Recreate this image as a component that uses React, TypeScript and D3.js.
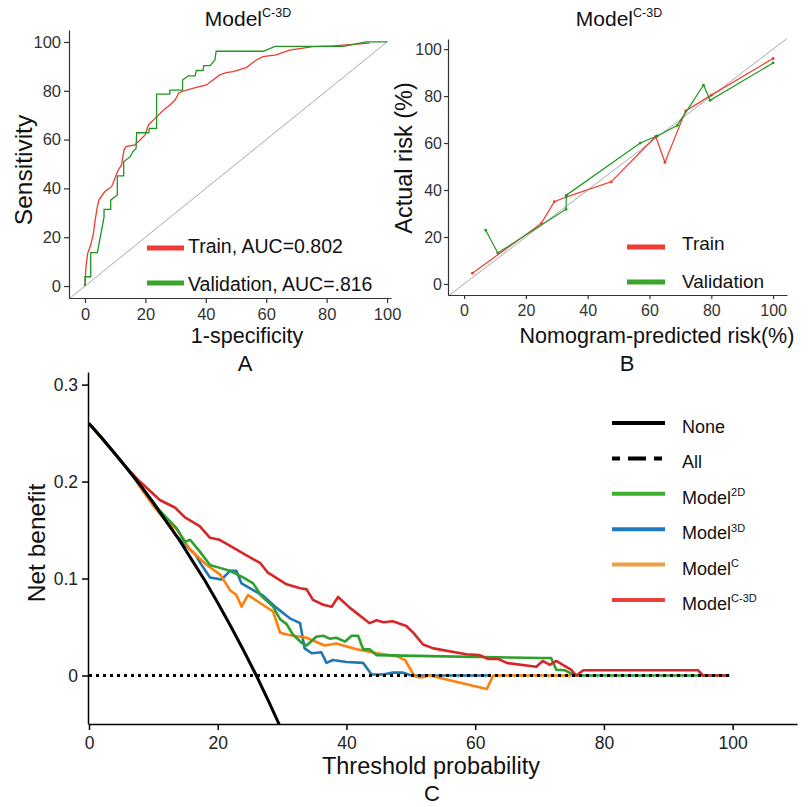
import React, { useEffect, useRef } from 'react'
import { axisBottom, axisLeft, line, scaleLinear, select } from 'd3'

// ---- datos ----
const pctTicks = [0, 20, 40, 60, 80, 100]
const dcaTicksY = [0, 0.1, 0.2, 0.3]

// ROC (1-specificity, sensitivity)
const rocTrain: [number, number][] = [
  [0, 0], [0.3, 7.9], [0.9, 13.4], [1.9, 16.9], [2.8, 21.6], [3.2, 25.7], [4, 31.9], [4.6, 35.2],
  [6.1, 38], [7.2, 39.3], [8.8, 40.7], [9.9, 44.1], [11, 47.5], [12.1, 49.6], [12.9, 55.7],
  [13.6, 57.1], [16.5, 57.8], [18.2, 59.8], [19.9, 61.9], [21, 66], [23.2, 68.7], [26, 72.1],
  [28.1, 74.2], [29.8, 76.2], [31.1, 79.2], [33.6, 80.3], [36.9, 81.4], [40.2, 82.4], [44.6, 86.5],
  [46.8, 87.4], [49, 87.8], [53.4, 89.5], [56.7, 92.6], [58.9, 94], [63.3, 94.7], [67.7, 96.7],
  [75.5, 98.1], [82.1, 98.4], [90.9, 99.2], [94.2, 99.5],
]
const rocValid: [number, number][] = [
  [0, 0], [0, 3.8], [1.9, 3.8], [1.9, 13.7], [4.1, 13.7], [6.3, 28.3], [6.3, 31.4], [8.5, 31.4],
  [8.5, 35.2], [10.7, 37.3], [10.7, 45.1], [12.8, 45.1], [12.8, 50.9], [15, 53], [15.8, 55],
  [16.9, 56.4], [17.1, 62.8], [21.1, 62.8], [21.3, 64.6], [23.7, 64.6], [23.7, 78.6], [28.1, 78.6],
  [28.1, 80.3], [32.3, 80.3], [32.3, 84.4], [34.2, 86.1], [36.4, 86.1], [36.9, 88.3], [39.1, 88.3],
  [39.3, 90.3], [41.4, 90.3], [43, 92.6], [43.4, 96.2], [59, 96.2], [62.9, 98.2], [85.5, 98.2],
  [93.1, 100], [100, 100],
]

// calibración (predicho, real)
const calTrain: [number, number][] = [
  [2.7, 4.6], [25, 25.8], [29.2, 35], [33, 37], [47.6, 43.5], [62, 62.8], [65, 51.8],
  [71.7, 73.7], [80, 80.4], [100, 96],
]
const calValid: [number, number][] = [
  [7, 22.9], [10.9, 13.2], [33, 31.8], [33.1, 37.8], [57, 60], [62.5, 63], [69, 67.5],
  [77.5, 84.7], [79.6, 78.2], [100, 94.1],
]

// curva de decisión (umbral %, beneficio neto)
const dcaNone: [number, number][] = [
  [0, 0.26], [2, 0.245], [4, 0.229], [6, 0.213], [8, 0.196], [10, 0.178], [12, 0.159], [14, 0.14],
  [16, 0.119], [18, 0.098], [20, 0.075], [22, 0.051], [24, 0.026], [26, 0], [28, -0.028], [30, -0.057],
]
const dcaAll: [number, number][] = [[0, 0], [99.5, 0]]
const dca2D: [number, number][] = [
  [0, 0.26], [4, 0.229], [8, 0.196], [11, 0.17], [13.6, 0.152], [14.9, 0.138], [15.7, 0.14],
  [17.2, 0.128], [18.8, 0.114], [20.3, 0.111], [21.9, 0.108], [24, 0.101], [25.5, 0.095],
  [26.8, 0.082], [28.6, 0.071], [29.7, 0.058], [30.7, 0.053], [31.7, 0.042], [33, 0.034],
  [33.8, 0.031], [35.3, 0.04], [36.4, 0.041], [37.4, 0.038], [38.4, 0.039], [39.8, 0.035],
  [40.8, 0.041], [41.8, 0.041], [42.6, 0.027], [43.6, 0.027], [44.7, 0.021], [52.9, 0.02],
  [70.5, 0.018], [71.8, 0.018], [72.6, 0.006], [73.9, 0.0055], [75.5, 0], [99.5, 0],
]
const dca3D: [number, number][] = [
  [0, 0.26], [4, 0.229], [8, 0.196], [12, 0.159], [13.6, 0.144], [15.2, 0.133], [16.5, 0.125],
  [17.5, 0.114], [18.8, 0.101], [20.6, 0.099], [21.9, 0.108], [22.9, 0.108], [23.7, 0.095],
  [27.1, 0.082], [29.1, 0.07], [31.2, 0.059], [32.8, 0.054], [33.5, 0.028], [34.6, 0.023],
  [36.1, 0.024], [36.9, 0.013], [37.9, 0.016], [40, 0.014], [42.6, 0.013], [43.9, 0.001],
  [45.7, 0.001], [47.2, 0.003], [48.8, 0.003], [50.1, 0], [62, 0],
]
const dcaC: [number, number][] = [
  [0, 0.26], [4, 0.229], [7, 0.204], [8.5, 0.189], [10, 0.175], [12, 0.159], [13.6, 0.151],
  [15.7, 0.13], [18.3, 0.114], [20.4, 0.104], [21.9, 0.088], [22.9, 0.083], [23.7, 0.071],
  [24.7, 0.083], [28.6, 0.066], [29.7, 0.044], [30.9, 0.042], [33.8, 0.039], [36.6, 0.031],
  [38.4, 0.033], [41.6, 0.027], [44.7, 0.023], [47.8, 0.02], [49.1, 0.016], [50.6, -0.001],
  [51.6, -0.002], [52.9, 0], [61.8, -0.014], [62.8, 0], [75, 0],
]
const dcaC3D: [number, number][] = [
  [0, 0.26], [2, 0.245], [4, 0.229], [6, 0.213], [7.9, 0.2], [11, 0.181], [13.4, 0.173],
  [14.9, 0.163], [17.2, 0.154], [18.8, 0.142], [20.3, 0.14], [22.4, 0.132], [24.2, 0.125],
  [26.6, 0.116], [27.8, 0.106], [30.7, 0.094], [32.8, 0.09], [33.8, 0.089], [34.8, 0.078],
  [36.4, 0.073], [37.7, 0.071], [38.7, 0.081], [40.5, 0.07], [43.6, 0.054], [44.7, 0.057],
  [45.7, 0.055], [47.2, 0.056], [49.3, 0.051], [50.4, 0.044], [51.9, 0.032], [53.5, 0.028],
  [58.6, 0.022], [60.7, 0.021], [62, 0.017], [63.6, 0.017], [64.9, 0.013], [69.5, 0.009],
  [70.5, 0.015], [71.6, 0.011], [72.6, 0.015], [73.6, 0.011], [74.9, 0.006], [75.7, 0],
  [76.8, 0.0055], [94.6, 0.0055], [95.4, 0], [99.3, 0],
]

const FONT = 'Liberation Sans, Arial, Helvetica, sans-serif'

const Axis = ({ axis, transform, fontSize, color = '#333', textColor = '#333', width = 1.2 }: any) => {
  const ref = useRef<SVGGElement>(null)
  useEffect(() => {
    const g = select(ref.current)
    g.call(axis)
    g.attr('font-size', fontSize).attr('font-family', FONT)
    g.select('.domain').attr('stroke', color).attr('stroke-width', width)
    g.selectAll('.tick line').attr('stroke', color).attr('stroke-width', width)
    g.selectAll('.tick text').attr('fill', textColor)
  })
  return <g ref={ref} transform={transform} />
}

const Sup = ({ x, y, base, sup, size, supSize, anchor = 'start' }: any) => (
  <text x={x} y={y} fontSize={size} textAnchor={anchor} fontFamily={FONT} fill="#111">
    {base}
    <tspan fontSize={supSize} dy={-size * 0.42}>{sup}</tspan>
  </text>
)

// ---- panel A: ROC ----
const PanelA = () => {
  const x = scaleLinear().domain([-5.3, 101.3]).range([69, 391])
  const y = scaleLinear().domain([-4.9, 104.9]).range([298, 30])
  const l = line<[number, number]>().x(d => x(d[0])).y(d => y(d[1]))
  return (
    <g>
      <line x1={x(-5.3)} y1={y(-5.3)} x2={x(100.3)} y2={y(100.3)} stroke="#a8a8a8" strokeWidth={1} />
      <path d={l(rocTrain) || ''} fill="none" stroke="#f03a30" strokeWidth={1.3} />
      <path d={l(rocValid) || ''} fill="none" stroke="#1f961f" strokeWidth={1.3} />
      <Axis axis={axisBottom(x).tickValues(pctTicks).tickSize(5).tickPadding(5).tickSizeOuter(0)} transform="translate(0,298)" fontSize={16.5} />
      <Axis axis={axisLeft(y).tickValues(pctTicks).tickSize(5).tickPadding(3).tickSizeOuter(0)} transform="translate(69,0)" fontSize={16.5} />
      <Sup x={248} y={26} base="Model" sup="C-3D" size={21} supSize={12.5} anchor="middle" />
      <text x={32} y={170} transform="rotate(-90,32,170)" textAnchor="middle" fontSize={24.5} fontFamily={FONT} fill="#111">Sensitivity</text>
      <text x={247} y={343} textAnchor="middle" fontSize={21.5} fontFamily={FONT} fill="#111">1-specificity</text>
      <text x={245} y={371} textAnchor="middle" fontSize={22} fontFamily={FONT} fill="#111">A</text>
      <line x1={147} x2={184} y1={248} y2={248} stroke="#ee3b33" strokeWidth={5} />
      <text x={188} y={253} fontSize={19.5} fontFamily={FONT} fill="#111">Train, AUC=0.802</text>
      <line x1={147} x2={184} y1={283} y2={283} stroke="#3aa52c" strokeWidth={5} />
      <text x={188} y={291} fontSize={19.5} fontFamily={FONT} fill="#111">Validation, AUC=.816</text>
    </g>
  )
}

// ---- panel B: calibración ----
const PanelB = () => {
  const x = scaleLinear().domain([-5.2, 104.5]).range([448, 787])
  const y = scaleLinear().domain([-4.7, 104.3]).range([295, 39])
  const l = line<[number, number]>().x(d => x(d[0])).y(d => y(d[1]))
  return (
    <g>
      <line x1={x(-5.2)} y1={y(-5.2)} x2={x(104.4)} y2={y(104.4)} stroke="#a8a8a8" strokeWidth={1} />
      <path d={l(calTrain) || ''} fill="none" stroke="#f03a30" strokeWidth={1.2} />
      {calTrain.map((d, i) => <circle key={'t' + i} cx={x(d[0])} cy={y(d[1])} r={1.4} fill="#f03a30" />)}
      <path d={l(calValid) || ''} fill="none" stroke="#1f961f" strokeWidth={1.2} />
      {calValid.map((d, i) => <circle key={'v' + i} cx={x(d[0])} cy={y(d[1])} r={1.4} fill="#1f961f" />)}
      <Axis axis={axisBottom(x).tickValues(pctTicks).tickSize(4).tickPadding(6).tickSizeOuter(0)} transform="translate(0,295)" fontSize={16} />
      <Axis axis={axisLeft(y).tickValues(pctTicks).tickSize(4).tickPadding(2).tickSizeOuter(0)} transform="translate(448,0)" fontSize={16} />
      <Sup x={619} y={26} base="Model" sup="C-3D" size={21} supSize={12.5} anchor="middle" />
      <text x={412} y={158} transform="rotate(-90,412,158)" textAnchor="middle" fontSize={23.5} fontFamily={FONT} fill="#111">Actual risk (%)</text>
      <text x={657} y={343} textAnchor="middle" fontSize={21.5} fontFamily={FONT} fill="#111">Nomogram-predicted risk(%)</text>
      <text x={627} y={371} textAnchor="middle" fontSize={22} fontFamily={FONT} fill="#111">B</text>
      <line x1={627} x2={665} y1={247} y2={247} stroke="#ee3b33" strokeWidth={5} />
      <text x={682} y={250} fontSize={19} fontFamily={FONT} fill="#111">Train</text>
      <line x1={627} x2={665} y1={282} y2={282} stroke="#3aa52c" strokeWidth={5} />
      <text x={682} y={288} fontSize={19} fontFamily={FONT} fill="#111">Validation</text>
    </g>
  )
}

// ---- panel C: curva de decisión ----
const dcaSeries = [
  { name: '3D', data: dca3D, color: '#1f77b4' },
  { name: 'C', data: dcaC, color: '#ff7f0e' },
  { name: '2D', data: dca2D, color: '#2ca02c' },
  { name: 'C-3D', data: dcaC3D, color: '#d62728' },
]
const legendC = [
  { sup: '', label: 'None', color: '#000', dash: '' },
  { sup: '', label: 'All', color: '#000', dash: '8,8,18,8,8' },
  { sup: '2D', label: 'Model', color: '#3cb02c', dash: '' },
  { sup: '3D', label: 'Model', color: '#1f7bc0', dash: '' },
  { sup: 'C', label: 'Model', color: '#eb9f45', dash: '' },
  { sup: 'C-3D', label: 'Model', color: '#e8403a', dash: '' },
]

const PanelC = () => {
  const x = scaleLinear().domain([0, 110]).range([89, 797])
  const y = scaleLinear().domain([-0.05, 0.313]).range([724, 372])
  const l = line<[number, number]>().x(d => x(d[0])).y(d => y(d[1]))
  return (
    <g>
      <defs>
        <clipPath id="clipC">
          <rect x={89} y={372} width={708} height={352} />
        </clipPath>
      </defs>
      <g clipPath="url(#clipC)">
        {dcaSeries.map(s => (
          <path key={s.name} d={l(s.data) || ''} fill="none" stroke={s.color} strokeWidth={2.6} strokeLinejoin="round" />
        ))}
        <path d={l(dcaNone) || ''} fill="none" stroke="#000" strokeWidth={3} />
        <path d={l(dcaAll) || ''} fill="none" stroke="#000" strokeWidth={3} strokeDasharray="3,4" />
      </g>
      <Axis axis={axisBottom(x).tickValues(pctTicks).tickSize(6).tickPadding(7).tickSizeOuter(0)} transform="translate(0,724)" fontSize={17.5} color="#000" textColor="#222" width={1.5} />
      <Axis axis={axisLeft(y).tickValues(dcaTicksY).tickFormat((d: any) => (d === 0 ? '0' : d.toFixed(1))).tickSize(6).tickPadding(4).tickSizeOuter(0)} transform="translate(88,0)" fontSize={17.5} color="#000" textColor="#222" width={1.5} />
      <text x={45} y={543} transform="rotate(-90,45,543)" textAnchor="middle" fontSize={24.5} fontFamily={FONT} fill="#111">Net benefit</text>
      <text x={431} y={774} textAnchor="middle" fontSize={23.5} fontFamily={FONT} fill="#111">Threshold probability</text>
      <text x={432} y={801} textAnchor="middle" fontSize={22} fontFamily={FONT} fill="#111">C</text>
      {legendC.map((d, i) => {
        const ly = 423 + i * 35.4
        return (
          <g key={i}>
            <line x1={612} x2={665} y1={ly} y2={ly} stroke={d.color} strokeWidth={4} strokeDasharray={d.dash || undefined} />
            {d.sup
              ? <Sup x={682} y={ly + 10} base={d.label} sup={d.sup} size={18} supSize={11} />
              : <text x={682} y={ly + 10} fontSize={18} fontFamily={FONT} fill="#111">{d.label}</text>}
          </g>
        )
      })}
    </g>
  )
}

const App = () => (
  <svg width={808} height={807} style={{ position: 'absolute', left: 0, top: 0, background: '#fff' }}>
    <rect width={808} height={807} fill="#fff" />
    <PanelA />
    <PanelB />
    <PanelC />
  </svg>
)

export default App
